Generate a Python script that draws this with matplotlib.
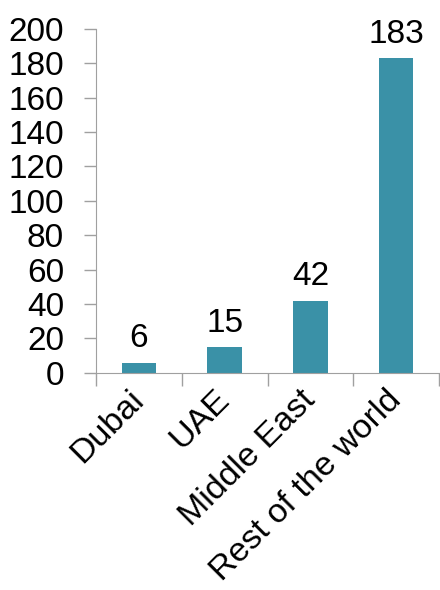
import matplotlib.pyplot as plt

plt.rcParams['font.family'] = ['Liberation Sans', 'DejaVu Sans']

categories = ["Dubai", "UAE", "Middle East", "Rest of the world"]
values = [6, 15, 42, 183]

fig = plt.figure(figsize=(4.4, 5.9), dpi=100)
ax = fig.add_axes([0.218, 0.368, 0.78, 0.583])

color = "#3a91a7"
grey = "#a0a0a0"
x = range(len(categories))
bars = ax.bar(x, values, width=0.4, color=color)

for b, v in zip(bars, values):
    ax.annotate(str(v), (b.get_x() + b.get_width() / 2, v), xytext=(0, 6),
                textcoords="offset points", ha="center", va="bottom", fontsize=24)

ax.set_ylim(0, 200)
ax.set_yticks(range(0, 201, 20))
ax.set_xlim(-0.5, len(categories) - 0.5)

# category boundary ticks on the x axis, labels at the centres
ax.set_xticks([i - 0.5 for i in range(len(categories) + 1)])
ax.set_xticklabels([])
ax.set_xticks(list(x), minor=True)
ax.set_xticklabels(categories, minor=True, rotation=45, ha="right", va="center",
                   rotation_mode="anchor", fontsize=24.5)
ax.tick_params(axis="x", which="minor", length=0, pad=16)
ax.tick_params(axis="x", which="major", length=9, color=grey, width=1)
ax.tick_params(axis="y", length=9, color=grey, width=1, labelsize=24, pad=14)

for s in ["top", "right"]:
    ax.spines[s].set_visible(False)
for s in ["left", "bottom"]:
    ax.spines[s].set_color(grey)

fig.savefig("out.png", dpi=100)
